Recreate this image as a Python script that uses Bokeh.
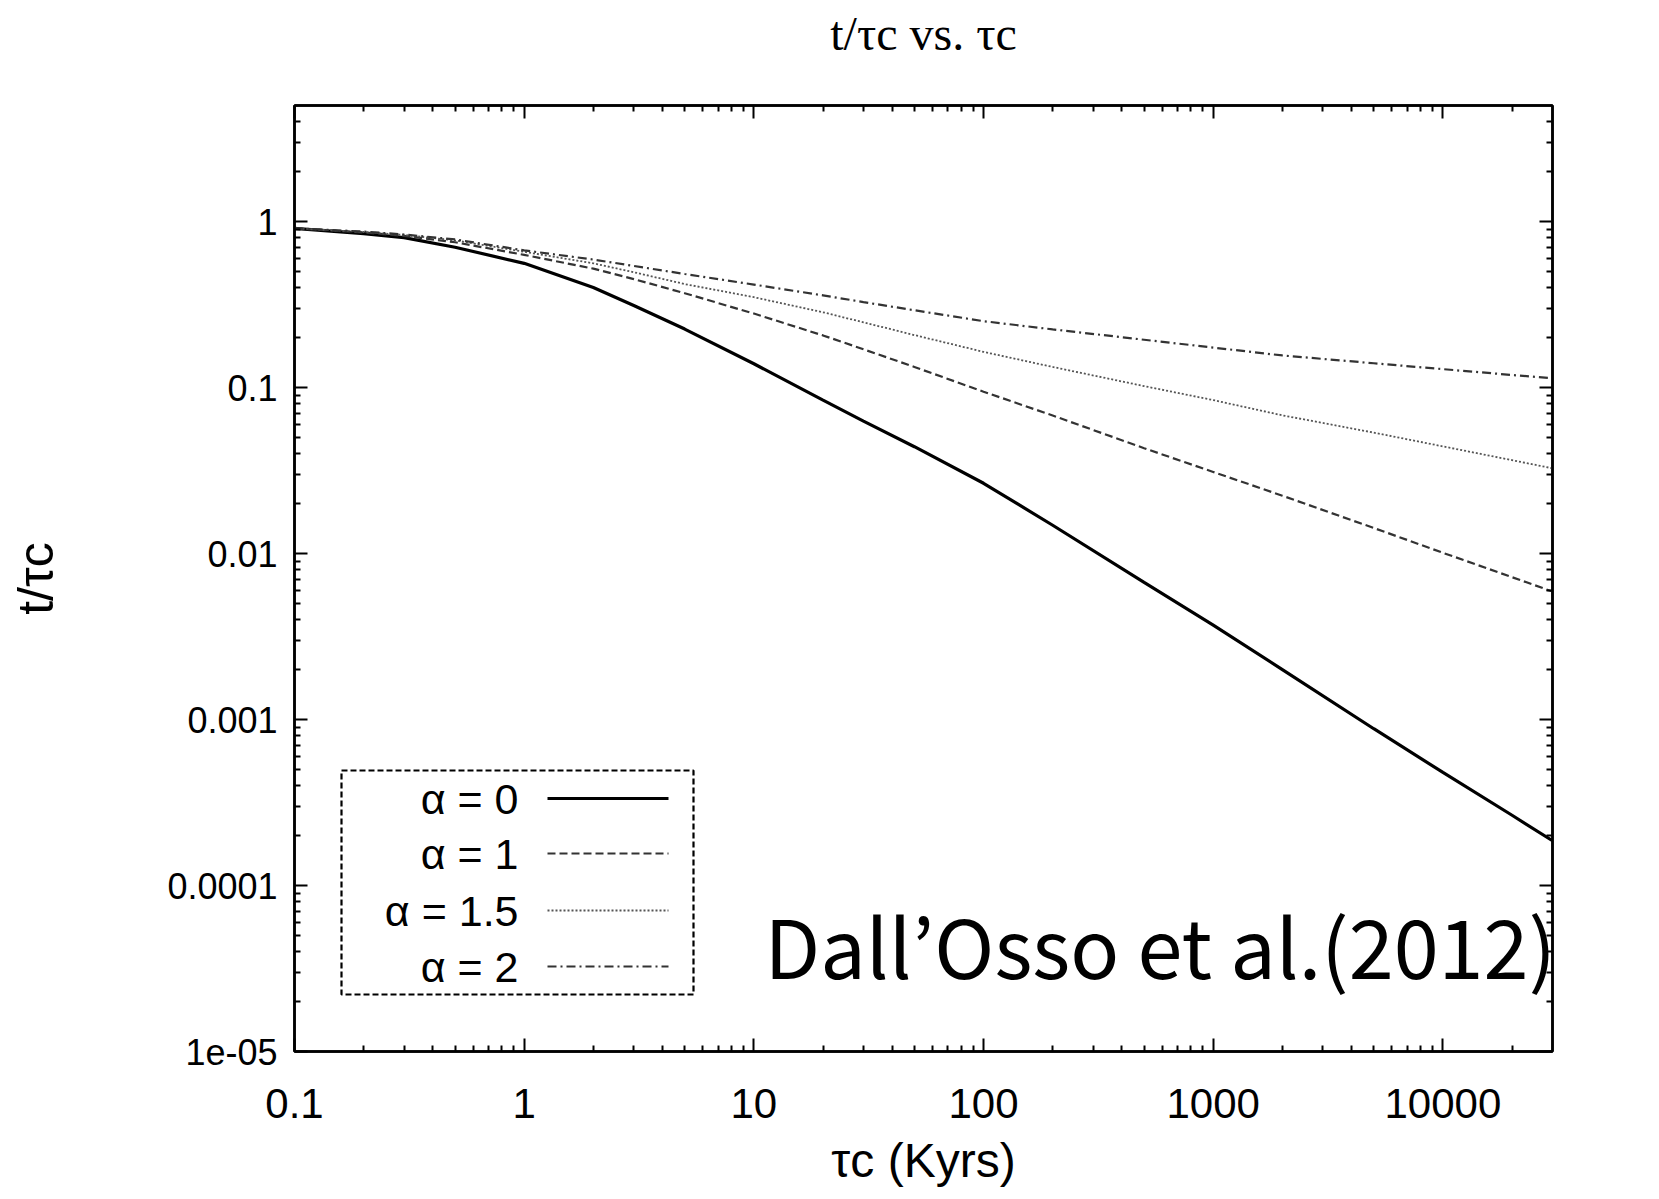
from bokeh.plotting import figure
from bokeh.models import (FixedTicker, LogAxis, Label, BoxAnnotation, Arrow,
                          CustomJSTickFormatter)
from bokeh.embed import file_html
from bokeh.resources import INLINE

# ---------------- data ----------------
tau_c = [0.1, 0.2, 0.3, 0.5, 1, 2, 3, 5, 10, 20, 30, 50, 100, 200, 500,
         1000, 2000, 5000, 10000, 20000, 30000]
ratio_alpha_0 = [0.91, 0.845, 0.80, 0.70, 0.56, 0.40, 0.312, 0.225, 0.139,
                 0.084, 0.0628, 0.044, 0.0265, 0.0148, 0.0067, 0.0037,
                 0.0020, 0.00088, 0.00048, 0.000265, 0.000186]
ratio_alpha_1 = [0.91, 0.86, 0.82, 0.75, 0.63, 0.52, 0.45, 0.37, 0.279,
                 0.206, 0.17, 0.133, 0.0944, 0.0678, 0.0431, 0.031, 0.0223,
                 0.01425, 0.0101, 0.0072, 0.0059]
ratio_alpha_15 = [0.91, 0.865, 0.83, 0.77, 0.657, 0.56, 0.495, 0.42, 0.35,
                  0.284, 0.247, 0.207, 0.164, 0.133, 0.102, 0.084, 0.068,
                  0.0535, 0.0442, 0.0365, 0.0326]
ratio_alpha_2 = [0.91, 0.87, 0.835, 0.78, 0.67, 0.59, 0.54, 0.483, 0.417,
                 0.359, 0.327, 0.292, 0.251, 0.224, 0.194, 0.174, 0.156,
                 0.140, 0.129, 0.119, 0.1138]
series_labels = ["α = 0", "α = 1", "α = 1.5", "α = 2"]

x_tick_values = [0.1, 1, 10, 100, 1000, 10000]
x_tick_labels = ["0.1", "1", "10", "100", "1000", "10000"]
y_tick_values = [1e-5, 1e-4, 1e-3, 1e-2, 0.1, 1]
y_tick_labels = ["1e-05", "0.0001", "0.001", "0.01", "0.1", "1"]

title_text = "t/τc vs. τc"
x_axis_text = "τc (Kyrs)"
y_axis_text = "t/τc"
credit_text = "Dall’Osso et al.(2012)"

# ---------------- figure ----------------
p = figure(width=1652, height=1199, x_axis_type="log", y_axis_type="log",
           x_range=(0.1, 30000), y_range=(1e-5, 5),
           output_backend="svg", toolbar_location=None,
           min_border_left=294, min_border_right=100,
           min_border_top=105, min_border_bottom=148)
p.grid.visible = False
p.outline_line_color = "black"
p.outline_line_width = 2.5
p.background_fill_color = "white"
p.border_fill_color = "white"

x_minor = [m * 10.0 ** e for e in range(-1, 5) for m in range(2, 10)
           if m * 10.0 ** e < 30000]
y_minor = [m * 10.0 ** e for e in range(-5, 1) for m in range(2, 10)
           if m * 10.0 ** e < 5]

top_axis = LogAxis()
right_axis = LogAxis()
p.add_layout(top_axis, "above")
p.add_layout(right_axis, "right")

bottom_axis = p.below[0]
left_axis = p.left[0]

def label_formatter(vals, labs):
    return CustomJSTickFormatter(args=dict(vals=vals, labs=labs), code="""
        for (let i = 0; i < vals.length; i++) {
            if (Math.abs(Math.log10(vals[i]) - Math.log10(tick)) < 1e-6) return labs[i];
        }
        return "";
    """)

for ax, is_x in [(bottom_axis, True), (top_axis, True),
                 (left_axis, False), (right_axis, False)]:
    if is_x:
        ax.ticker = FixedTicker(ticks=x_tick_values, minor_ticks=x_minor)
    else:
        ax.ticker = FixedTicker(ticks=y_tick_values, minor_ticks=y_minor)
    ax.major_tick_in = 13
    ax.major_tick_out = 0
    ax.minor_tick_in = 6
    ax.minor_tick_out = 0
    ax.axis_line_width = 2.5
    ax.axis_line_color = "black"
    ax.major_tick_line_width = 2
    ax.minor_tick_line_width = 2
    ax.major_tick_line_color = "black"
    ax.minor_tick_line_color = "black"
    ax.major_label_text_color = "black"

bottom_axis.formatter = label_formatter(x_tick_values, x_tick_labels)
bottom_axis.major_label_text_font = "Liberation Sans"
bottom_axis.major_label_text_font_size = "42px"
bottom_axis.major_label_standoff = 37
bottom_axis.axis_label = x_axis_text
bottom_axis.axis_label_text_font = "Liberation Sans"
bottom_axis.axis_label_text_font_size = "48px"
bottom_axis.axis_label_text_font_style = "normal"
bottom_axis.axis_label_text_color = "black"
bottom_axis.axis_label_standoff = 13

left_axis.formatter = label_formatter(y_tick_values, y_tick_labels)
left_axis.major_label_text_font = "Liberation Sans"
left_axis.major_label_text_font_size = "36px"
left_axis.major_label_standoff = 17
left_axis.axis_label = y_axis_text
left_axis.axis_label_text_font = "Liberation Sans"
left_axis.axis_label_text_font_size = "50px"
left_axis.axis_label_text_font_style = "normal"
left_axis.axis_label_text_color = "black"
left_axis.axis_label_standoff = 100

for ax in (top_axis, right_axis):
    ax.formatter = CustomJSTickFormatter(code="return '';")
    ax.major_label_text_font_size = "2px"
    ax.major_label_standoff = 0

# chart title, carried by the top axis so it can sit high in the border
top_axis.axis_label = title_text
top_axis.axis_label_text_font = "Liberation Serif"
top_axis.axis_label_text_font_size = "48px"
top_axis.axis_label_text_font_style = "normal"
top_axis.axis_label_text_color = "black"
top_axis.axis_label_standoff = 46

# ---------------- curves ----------------
styles = [
    dict(line_color="black", line_width=3.2, line_dash="solid"),
    dict(line_color="#333333", line_width=2.2, line_dash="8 4"),
    dict(line_color="#555555", line_width=1.8, line_dash="2 2"),
    dict(line_color="#333333", line_width=2.2, line_dash="9 4 2 4"),
]
series = [ratio_alpha_0, ratio_alpha_1, ratio_alpha_15, ratio_alpha_2]
for ys, st in zip(series, styles):
    p.line(tau_c, ys, **st)

# ---------------- legend (gnuplot style: text left, sample right) --------
p.add_layout(BoxAnnotation(left=47, right=399, bottom=57, top=281,
                           left_units="screen", right_units="screen",
                           bottom_units="screen", top_units="screen",
                           fill_color="white", fill_alpha=1.0,
                           line_color="black", line_alpha=1.0, line_width=2.2,
                           line_dash="6 3"))
row_y = [253, 198, 141, 85]
for lab, st, yy in zip(series_labels, styles, row_y):
    p.add_layout(Label(x=224, y=yy, x_units="screen", y_units="screen",
                       text=lab, text_align="right", text_baseline="middle",
                       text_font="Liberation Sans", text_font_size="43px",
                       text_color="black"))
    p.add_layout(Arrow(x_start=253, y_start=yy, x_end=374, y_end=yy,
                       start_units="screen", end_units="screen",
                       start=None, end=None, **st))

# ---------------- credit ----------------
p.add_layout(Label(x=470, y=108, x_units="screen", y_units="screen",
                   text=credit_text, text_align="left",
                   text_baseline="alphabetic", text_font="Noto Sans CJK JP",
                   text_font_size="81px", text_color="black"))

open("out.html", "w").write(file_html(p, INLINE))
